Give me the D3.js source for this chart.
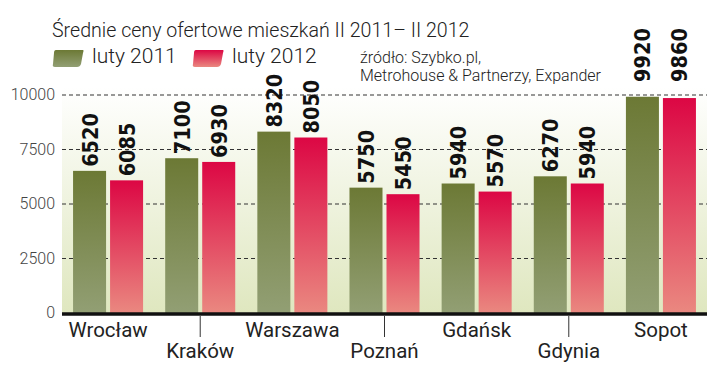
<!DOCTYPE html>
<html>
<head>
<meta charset="utf-8">
<script src="https://cdn.jsdelivr.net/npm/d3@7"></script>
<style>
  body { margin: 0; background: #fff; }
  svg text { font-family: Roboto, sans-serif; }
</style>
</head>
<body>
<div id="chart"></div>
<script>
// data
const cities = ["Wrocław", "Kraków", "Warszawa", "Poznań", "Gdańsk", "Gdynia", "Sopot"];
const feb2011 = [6520, 7100, 8320, 5750, 5940, 6270, 9920];
const feb2012 = [6085, 6930, 8050, 5450, 5570, 5940, 9860];
const seriesNames = ["luty 2011", "luty 2012"];
const yTicks = [0, 2500, 5000, 7500, 10000];

const W = 720, H = 370;
const plotLeft = 62, plotRight = 707, plotTop = 95, plotBottom = 313;

let svg = d3.select("#chart").append("svg")
    .attr("width", W)
    .attr("height", H);

let defs = svg.append("defs");
function vGrad(id, c1, c2) {
    let g = defs.append("linearGradient").attr("id", id)
        .attr("x1", 0).attr("y1", 0).attr("x2", 0).attr("y2", 1);
    g.append("stop").attr("offset", "0%").attr("stop-color", c1);
    g.append("stop").attr("offset", "100%").attr("stop-color", c2);
}
vGrad("bg", "#ffffff", "#dfe7bf");
vGrad("green", "#6c7935", "#929f74");
vGrad("red", "#dc0744", "#ea8880");

let y = d3.scaleLinear().domain([0, 10000]).range([plotBottom, plotTop]);

let x0 = d3.scaleBand()
    .domain(cities)
    .range([plotLeft, plotRight])
    .paddingInner(0.24)
    .paddingOuter(0.12);

let x1 = d3.scaleBand()
    .domain([0, 1])
    .range([0, x0.bandwidth()])
    .paddingInner(0.108);

// plot background
svg.append("rect")
    .attr("x", plotLeft).attr("y", plotTop - 8)
    .attr("width", plotRight - plotLeft).attr("height", plotBottom - plotTop + 8)
    .attr("fill", "url(#bg)");

// grid lines
svg.append("g").selectAll("line")
    .data(yTicks.filter(d => d > 0))
    .enter().append("line")
    .attr("x1", plotLeft).attr("x2", plotRight)
    .attr("y1", d => y(d)).attr("y2", d => y(d))
    .attr("stroke", "#333")
    .attr("stroke-width", 1.2)
    .attr("stroke-dasharray", "4,3");

// y axis labels
svg.append("g").selectAll("text")
    .data(yTicks)
    .enter().append("text")
    .attr("x", plotLeft - 7)
    .attr("y", d => y(d) + 5)
    .attr("text-anchor", "end")
    .style("font-size", "16px")
    .style("font-weight", 300)
    .style("fill", "#444")
    .text(d => d);

// bars
let rows = cities.map((c, i) => ({ city: c, values: [feb2011[i], feb2012[i]] }));
let groups = svg.append("g").selectAll("g")
    .data(rows)
    .enter().append("g")
    .attr("transform", d => `translate(${x0(d.city)},0)`);

groups.selectAll("rect")
    .data(d => d.values.map((v, k) => ({ k: k, v: v })))
    .enter().append("rect")
    .attr("x", d => x1(d.k))
    .attr("y", d => y(d.v))
    .attr("width", x1.bandwidth())
    .attr("height", d => y(0) - y(d.v))
    .attr("fill", d => d.k == 0 ? "url(#green)" : "url(#red)");

// value labels; near the top line they jump above it
groups.selectAll("text")
    .data(d => d.values.map((v, k) => ({ k: k, v: v })))
    .enter().append("text")
    .attr("transform", d => {
        let ty = y(d.v) - 4;
        if (ty < y(10000) + 10) ty = y(10000) - 13;
        return `translate(${x1(d.k) + x1.bandwidth() / 2 + 8},${ty}) rotate(-90)`;
    })
    .style("font-family", "'DejaVu Sans Condensed', sans-serif")
    .style("font-weight", "bold")
    .style("font-size", "21.5px")
    .style("fill", "#111")
    .text(d => d.v);

// baseline
svg.append("line")
    .attr("x1", plotLeft).attr("x2", plotRight)
    .attr("y1", y(0) + 1).attr("y2", y(0) + 1)
    .attr("stroke", "#111")
    .attr("stroke-width", 3.5);

// category labels on two levels
let cat = svg.append("g");
cities.forEach((c, i) => {
    let cx = x0(c) + x0.bandwidth() / 2;
    let low = i % 2 == 1;
    if (low) {
        cat.append("line")
            .attr("x1", cx).attr("x2", cx)
            .attr("y1", y(0) + 3).attr("y2", y(0) + 24)
            .attr("stroke", "#333").attr("stroke-width", 1);
    }
    cat.append("text")
        .attr("x", cx)
        .attr("y", low ? 358 : 337)
        .attr("text-anchor", "middle")
        .style("font-size", "20.5px")
        .style("fill", "#222")
        .text(c);
});

// title
svg.append("text")
    .attr("x", 52).attr("y", 37)
    .style("font-size", "19.6px")
    .style("font-weight", 300)
    .style("fill", "#222")
    .text("Średnie ceny ofertowe mieszkań II 2011– II 2012");

// legend
let legend = svg.append("g");
seriesNames.forEach((s, i) => {
    let lx = 53 + i * 140;
    legend.append("path")
        .attr("d", `M${lx + 3},50 L${lx + 30},50 Q${lx + 31},50 ${lx + 30},53 L${lx + 28},64 Q${lx + 27},67 ${lx + 24},67 L${lx + 2},67 Q${lx - 1},67 ${lx},64 L${lx + 1},53 Q${lx + 1},50 ${lx + 3},50 Z`)
        .attr("fill", i == 0 ? "url(#green)" : "url(#red)");
    legend.append("text")
        .attr("x", lx + 39).attr("y", 63)
        .style("font-size", "21px")
        .style("font-weight", 300)
        .style("fill", "#222")
        .text(s);
});

// source
let src = svg.append("text")
    .attr("x", 360).attr("y", 63)
    .style("font-size", "16px")
    .style("font-weight", 300)
    .style("fill", "#222");
src.append("tspan").attr("x", 360).attr("dy", 0).text("źródło: Szybko.pl,");
src.append("tspan").attr("x", 360).attr("dy", 18).text("Metrohouse & Partnerzy, Expander");
</script>
</body>
</html>
